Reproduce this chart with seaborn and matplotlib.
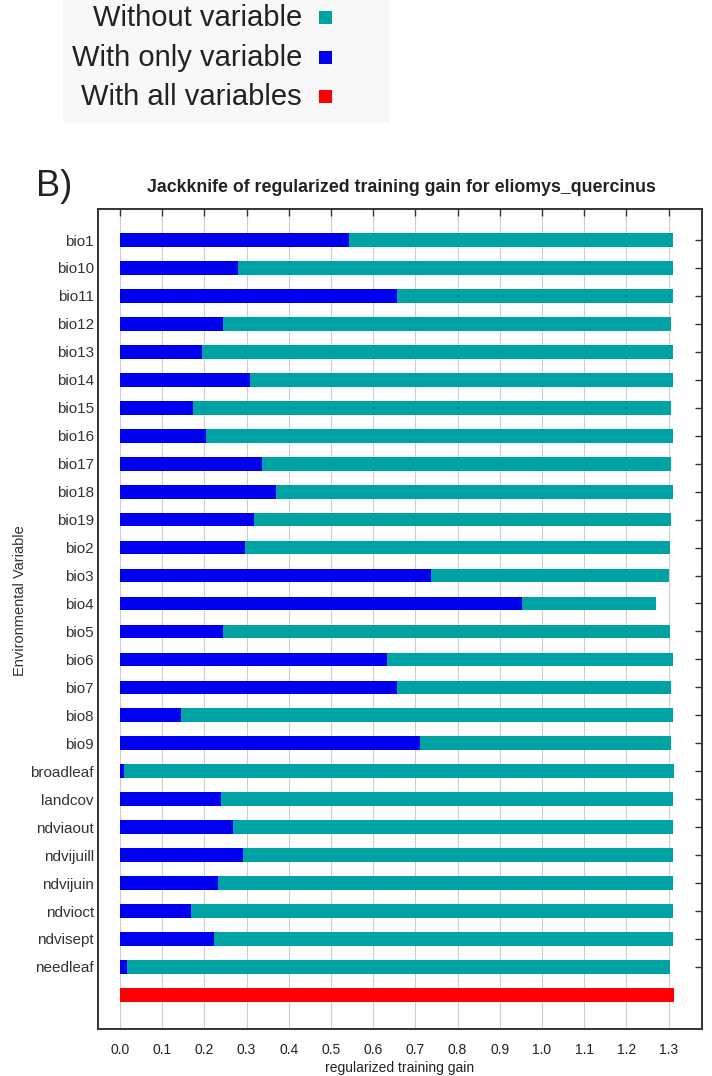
import matplotlib
matplotlib.use("Agg")
import matplotlib.pyplot as plt
import seaborn as sns
import pandas as pd
from matplotlib.patches import Rectangle

# ---------------- data ----------------
variables = ["bio1", "bio10", "bio11", "bio12", "bio13", "bio14", "bio15", "bio16",
             "bio17", "bio18", "bio19", "bio2", "bio3", "bio4", "bio5", "bio6",
             "bio7", "bio8", "bio9", "broadleaf", "landcov", "ndviaout", "ndvijuill",
             "ndvijuin", "ndvioct", "ndvisept", "needleaf"]
without_variable = [1.310, 1.310, 1.310, 1.306, 1.310, 1.310, 1.306, 1.310,
                    1.306, 1.310, 1.306, 1.303, 1.300, 1.269, 1.303, 1.310,
                    1.306, 1.310, 1.306, 1.313, 1.310, 1.310, 1.310,
                    1.310, 1.310, 1.310, 1.303]
with_only_variable = [0.543, 0.280, 0.656, 0.245, 0.194, 0.308, 0.173, 0.205,
                      0.336, 0.369, 0.318, 0.297, 0.738, 0.953, 0.243, 0.632,
                      0.657, 0.144, 0.712, 0.010, 0.240, 0.269, 0.292,
                      0.233, 0.168, 0.222, 0.016]
with_all_variables = 1.312
x_ticks = [0.0, 0.1, 0.2, 0.3, 0.4, 0.5, 0.6, 0.7, 0.8, 0.9, 1.0, 1.1, 1.2, 1.3]
series_names = ["Without variable", "With only variable", "With all variables"]

TEAL = "#00A3A3"
BLUE = "#0000F0"
RED = "#FF0000"
palette = dict(zip(series_names, [TEAL, BLUE, RED]))

# long-form table
rows = []
for v, w in zip(variables, without_variable):
    rows.append((v, series_names[0], w))
for v, o in zip(variables, with_only_variable):
    rows.append((v, series_names[1], o))
rows.append(("", series_names[2], with_all_variables))
df = pd.DataFrame(rows, columns=["variable", "series", "gain"])
order = variables + [""]

# ---------------- style ----------------
sns.set_style("white")
plt.rcParams['font.family'] = ['Liberation Sans', 'DejaVu Sans']

W, H = 712, 1076
fig = plt.figure(figsize=(W / 100, H / 100), dpi=100)
ax = fig.add_axes([98 / W, 1 - 1029 / H, 604 / W, 820 / H])

sns.barplot(data=df, x="gain", y="variable", hue="series", order=order,
            hue_order=series_names, palette=palette, dodge=False,
            saturation=1, width=0.49, orient="h", ax=ax, legend=False,
            errorbar=None, linewidth=0)

ax.set_xlim(-0.052, 1.379)
ax.set_ylim(28.22, -1.11)
ax.set_xticks(x_ticks)
ax.set_xticklabels([f"{t:.1f}" for t in x_ticks])
ax.set_yticks(range(len(variables)))
ax.set_yticklabels(variables)
ax.set_ylabel("")
ax.set_xlabel("regularized training gain", fontsize=10, color="#222222", labelpad=3)

ax.tick_params(axis="both", direction="in", top=True, right=True, length=5,
               width=1, color="#333333")
ax.tick_params(axis="x", labelsize=10, pad=10, labelcolor="#222222")
ax.tick_params(axis="y", labelsize=11, pad=3, labelcolor="#333333")
ax.grid(axis="x", color="#cdcdcd", linewidth=0.8)
ax.grid(axis="y", visible=False)
ax.set_axisbelow(True)
for s in ax.spines.values():
    s.set_visible(True)
    s.set_color("#333333")
    s.set_linewidth(1.4)

# title, panel letter, y label
fig.text(401 / W, 1 - 188 / H,
         "Jackknife of regularized training gain for eliomys_quercinus",
         ha="center", va="center", fontsize=12.8, fontweight="bold", color="#222222")
fig.text(36 / W, 1 - 186 / H, "B)", ha="left", va="center", fontsize=26, color="#222222")
fig.text(20 / W, 1 - 601 / H, "Environmental Variable", rotation=90,
         ha="center", va="center", fontsize=10.5, color="#333333")

# legend block at top
fig.patches.append(Rectangle((63 / W, 1 - 123 / H), (390 - 63) / W, 123 / H,
                             transform=fig.transFigure, facecolor="#f8f8f8",
                             edgecolor="none", zorder=0))
legend_y = [18, 58, 97]
for name, yy in zip(series_names, legend_y):
    fig.text(302 / W, 1 - yy / H, name, ha="right", va="center",
             fontsize=21, color="#222222")
    fig.patches.append(Rectangle((319 / W, 1 - (yy + 6) / H), 13 / W, 13 / H,
                                 transform=fig.transFigure,
                                 facecolor=palette[name], edgecolor="none"))

fig.savefig("out.png", dpi=100)
